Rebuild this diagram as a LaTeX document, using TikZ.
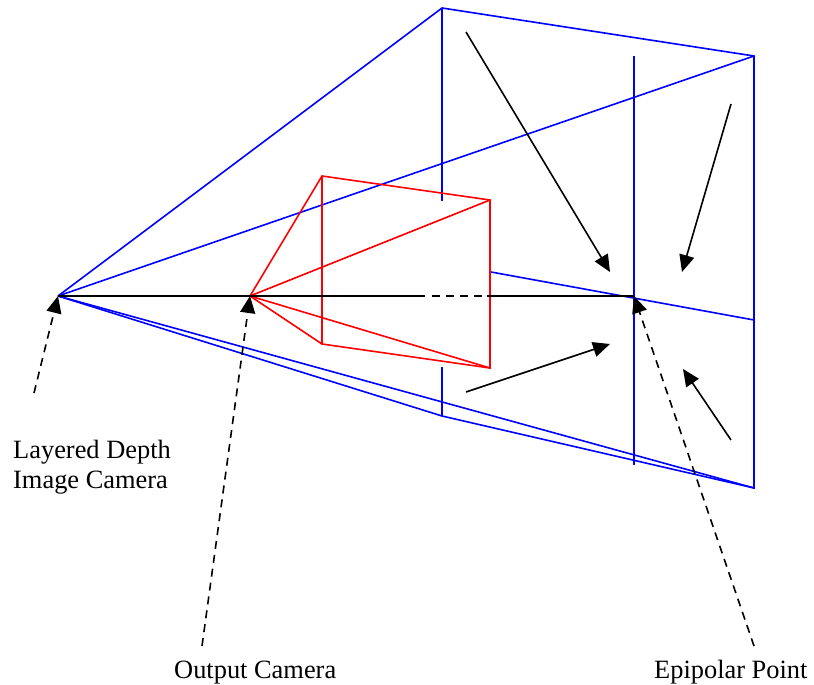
\documentclass[tikz,border=0pt]{standalone}
\usepackage{fontspec}
\setmainfont{Liberation Serif}
\usetikzlibrary{arrows.meta}
\tikzset{
  wire/.style={blue, line width=1.6pt},
  redwire/.style={red, line width=1.6pt},
  ray/.style={black, line width=1.6pt},
  pointer/.style={black, line width=1.6pt, -{Triangle[length=17pt,width=15pt]}},
  dashpointer/.style={black, line width=1.6pt, dash pattern=on 8pt off 6pt, -{Triangle[length=17pt,width=15pt]}},
  caption/.style={inner sep=0pt, font=\fontsize{26.4}{30.5}\selectfont, align=left}
}
\begin{document}
\begin{tikzpicture}[x=1pt, y=-1pt]
  \useasboundingbox (0,0) rectangle (814,685);
  % cameras
  \coordinate (ldi) at (58,296);
  \coordinate (out) at (250,296);
  \coordinate (epi) at (634,296);
  % blue frustum
  \coordinate (farA) at (442,8);
  \coordinate (farB) at (754,56);
  \coordinate (farC) at (754,488);
  \coordinate (farD) at (442,416);
  \draw[wire] (ldi) -- (farA) -- (farB) -- (farC) -- (farD) -- (ldi);
  \draw[wire] (ldi) -- (farB);
  \draw[wire] (ldi) -- (farC);
  % blue image lines
  \draw[wire] (442,8) -- (442,201);
  \draw[wire] (442,367) -- (442,416);
  \draw[wire] (634,56) -- (634,465);
  \draw[wire] (491,272) -- (754,320);
  % red frustum
  \coordinate (redA) at (322,176);
  \coordinate (redB) at (490,200);
  \coordinate (redC) at (490,368);
  \coordinate (redD) at (322,344);
  \draw[redwire] (out) -- (redA) -- (redB) -- (redC) -- (redD) -- (out);
  \draw[redwire] (redA) -- (redD);
  \draw[redwire] (out) -- (redB);
  \draw[redwire] (out) -- (redC);
  % baseline
  \draw[ray] (ldi) -- (425,296);
  \draw[ray, dash pattern=on 8pt off 6pt] (432,296) -- (484,296);
  \draw[ray] (487,296) -- (epi);
  % flow arrows
  \draw[pointer] (466,32) -- (610,272);
  \draw[pointer] (731,104) -- (682,272);
  \draw[pointer] (466,392) -- (610,344);
  \draw[pointer] (731,440) -- (683,369);
  % labels
  \node[caption, anchor=base west] (ldilabel) at (13,458) {Layered Depth};
  \node[caption, anchor=base west] (imglabel) at (13,488) {Image Camera};
  \node[caption, anchor=base west] (outlabel) at (174,678) {Output Camera};
  \node[caption, anchor=base west] (epilabel) at (654,678) {Epipolar Point};
  % dashed pointers
  \coordinate (ldifoot) at (34,393);
  \coordinate (outfoot) at (202,646);
  \coordinate (epifoot) at (754,646);
  \draw[dashpointer] (ldifoot) -- (ldi);
  \draw[dashpointer] (outfoot) -- (out);
  \draw[dashpointer] (epifoot) -- (epi);
\end{tikzpicture}
\end{document}
